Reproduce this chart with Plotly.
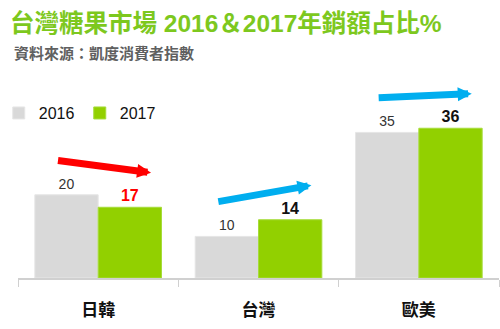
import plotly.graph_objects as go

categories = ["日韓", "台灣", "歐美"]
sales_2016 = [20, 10, 35]
sales_2017 = [17, 14, 36]
label_colors_2017 = ["#ff0000", "#111111", "#111111"]

GRAY = "#d9d9d9"
GREEN = "#92d000"
FONT = "Liberation Sans, Arial, Noto Sans CJK TC, sans-serif"

fig = go.Figure()
fig.add_trace(go.Bar(
    x=categories, y=sales_2016, name="2016",
    marker=dict(color=GRAY, line=dict(color="#e6e6e6", width=1)),
    text=sales_2016, texttemplate="%{y}", textposition="outside",
    textfont=dict(family=FONT, size=14, color="#333333"),
    cliponaxis=False,
))
fig.add_trace(go.Bar(
    x=categories, y=sales_2017, name="2017",
    marker=dict(color=GREEN, line=dict(color="#a6dc3a", width=1)),
    text=sales_2017, texttemplate="<b>%{y}</b>", textposition="outside",
    textfont=dict(family=FONT, size=16, color=label_colors_2017),
    cliponaxis=False,
))

# trend arrows from above the 2016 bar to above the 2017 bar
arrow_colors = ["#ff0000" if b < a else "#00aeef" for a, b in zip(sales_2016, sales_2017)]
for i, (a, b, c) in enumerate(zip(sales_2016, sales_2017, arrow_colors)):
    fig.add_annotation(
        x=i + 0.33, y=b + 8.3, ax=i - 0.26, ay=a + 8.3,
        xref="x", yref="y", axref="x", ayref="y",
        showarrow=True, arrowhead=2, arrowsize=0.4, arrowwidth=7,
        arrowcolor=c, text="", standoff=0,
    )

fig.add_annotation(
    text="<b>資料來源：凱度消費者指數</b>",
    xref="paper", yref="paper", x=-0.0125, y=1.082,
    xanchor="left", yanchor="middle", showarrow=False,
    font=dict(family="Noto Sans CJK TC, sans-serif", size=15, color="#606060"),
)

fig.update_layout(
    width=500, height=329,
    margin=dict(l=18, r=1, t=70, b=51, autoexpand=False),
    paper_bgcolor="white", plot_bgcolor="white",
    barmode="group", bargap=0.21, bargroupgap=0,
    title=dict(
        text="<b>台灣糖果市場 2016＆2017年銷額占比%</b>",
        xref="container", yref="container", x=0.02, y=0.93,
        xanchor="left", yanchor="middle",
        font=dict(family=FONT, size=24.5, color="#7dc81e"),
    ),
    legend=dict(
        orientation="h", x=-0.04, y=0.793, xanchor="left", yanchor="middle",
        font=dict(family=FONT, size=16, color="#111111"),
        entrywidth=36, entrywidthmode="pixels", itemwidth=30,
        bgcolor="rgba(0,0,0,0)",
    ),
    xaxis=dict(
        showline=True, linecolor="#d0d0d0", linewidth=1.5,
        ticks="outside", tickson="boundaries", ticklen=7, tickcolor="#d0d0d0",
        ticklabelstandoff=16,
        tickfont=dict(family="Noto Sans CJK TC, sans-serif", size=17,
                      color="#111111", weight="bold"),
        showgrid=False,
    ),
    yaxis=dict(range=[0, 50], visible=False, showgrid=False),
    showlegend=True,
)

fig.write_html("out.html")
